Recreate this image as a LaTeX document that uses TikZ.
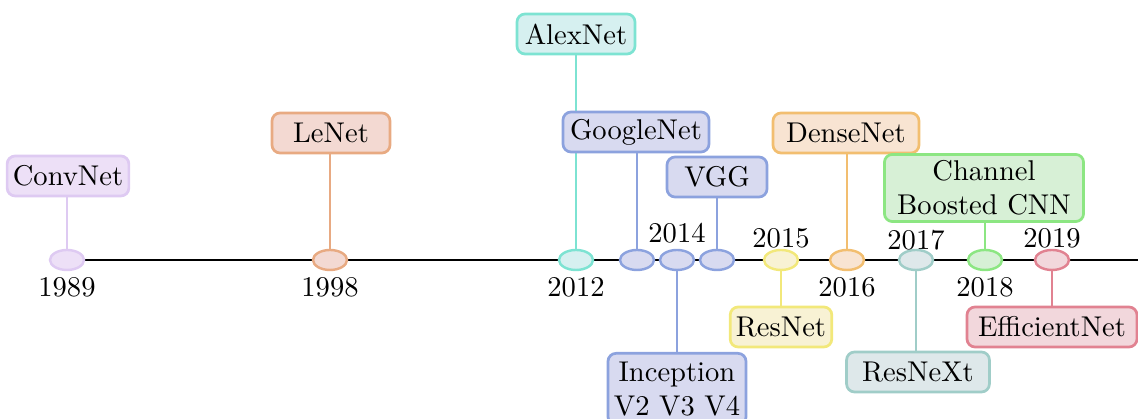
\documentclass[tikz,border=0pt]{standalone}
\usetikzlibrary{shapes.geometric,backgrounds}

% Outline and fill colours for each network family
\definecolor{convD}{RGB}{222,202,242}
\definecolor{convF}{RGB}{237,224,247}
\definecolor{leD}{RGB}{232,170,130}
\definecolor{leF}{RGB}{243,217,210}
\definecolor{alexD}{RGB}{125,227,210}
\definecolor{alexF}{RGB}{214,240,240}
\definecolor{gooD}{RGB}{140,162,222}
\definecolor{gooF}{RGB}{216,218,240}
\definecolor{resD}{RGB}{242,232,122}
\definecolor{resF}{RGB}{248,242,212}
\definecolor{denseD}{RGB}{242,190,112}
\definecolor{denseF}{RGB}{248,228,210}
\definecolor{rnxD}{RGB}{160,205,200}
\definecolor{rnxF}{RGB}{222,232,234}
\definecolor{cbD}{RGB}{140,230,130}
\definecolor{cbF}{RGB}{215,240,214}
\definecolor{effD}{RGB}{225,130,145}
\definecolor{effF}{RGB}{242,215,220}

\tikzset{
  netbox/.style 2 args={draw=#1, fill=#2, line width=0.95pt, rounded corners=2.8pt,
    align=center, minimum height=14pt, inner xsep=2pt, inner ysep=2pt},
  yearmark/.style 2 args={ellipse, draw=#1, fill=#2, line width=0.85pt,
    minimum width=11.9pt, minimum height=7pt, inner sep=0pt},
  stem/.style={draw=#1, line width=0.65pt},
  axisline/.style={draw=black, line width=0.7pt},
}

\begin{document}
\begin{tikzpicture}[x=0.35pt, y=-0.35pt]
\useasboundingbox (0,0) rectangle (1138,419);

% Year markers on the time axis
\node[yearmark={convD}{convF}] (y1989) at (67,260) {};
\node[yearmark={leD}{leF}] (y1998) at (330,260) {};
\node[yearmark={alexD}{alexF}] (y2012) at (576,260) {};
\node[yearmark={gooD}{gooF}] (y2014a) at (637,260) {};
\node[yearmark={gooD}{gooF}] (y2014b) at (677,260) {};
\node[yearmark={gooD}{gooF}] (y2014c) at (717,260) {};
\node[yearmark={resD}{resF}] (y2015) at (781,260) {};
\node[yearmark={denseD}{denseF}] (y2016) at (847,260) {};
\node[yearmark={rnxD}{rnxF}] (y2017) at (916,260) {};
\node[yearmark={cbD}{cbF}] (y2018) at (985,260) {};
\node[yearmark={effD}{effF}] (y2019) at (1052,260) {};
\coordinate (axisend) at (1138,260);

% Year labels
\node (l1989) at (67,287) {1989};
\node (l1998) at (330,287) {1998};
\node (l2012) at (576,287) {2012};
\node (l2014) at (677,233) {2014};
\node (l2015) at (781,238) {2015};
\node (l2016) at (847,287) {2016};
\node (l2017) at (916,240) {2017};
\node (l2018) at (985,287) {2018};
\node (l2019) at (1052,238) {2019};

% Network boxes
\node[netbox={convD}{convF}, minimum width=40.6pt] (convnet) at (68,176) {ConvNet};
\node[netbox={leD}{leF}, minimum width=41.3pt] (lenet) at (331,133) {LeNet};
\node[netbox={alexD}{alexF}, minimum width=41.3pt] (alexnet) at (576,34) {AlexNet};
\node[netbox={gooD}{gooF}, minimum width=51.1pt] (googlenet) at (636,132) {GoogleNet};
\node[netbox={gooD}{gooF}, minimum width=35pt] (vgg) at (717,177) {VGG};
\node[netbox={gooD}{gooF}, minimum width=48.3pt, anchor=north, inner ysep=3pt] (inception) at (677,352) {Inception\\V2 V3 V4};
\node[netbox={resD}{resF}, minimum width=35pt] (resnet) at (781,327) {ResNet};
\node[netbox={denseD}{denseF}, minimum width=51.1pt] (densenet) at (846,133) {DenseNet};
\node[netbox={rnxD}{rnxF}, minimum width=50pt] (resnext) at (918,372) {ResNeXt};
\node[netbox={cbD}{cbF}, minimum width=69.7pt, minimum height=23.5pt] (cbcnn) at (984,188) {Channel\\Boosted CNN};
\node[netbox={effD}{effF}, minimum width=59.5pt] (effnet) at (1052,327) {EfficientNet};

% Axis and stems, kept behind the filled shapes
\begin{scope}[on background layer]
  \draw[axisline] (y1989.east) -- (axisend);
  \draw[stem=convD] (y1989) -- (y1989 |- convnet);
  \draw[stem=leD] (y1998) -- (y1998 |- lenet);
  \draw[stem=alexD] (y2012) -- (y2012 |- alexnet);
  \draw[stem=gooD] (y2014a) -- (y2014a |- googlenet);
  \draw[stem=gooD] (y2014b) -- (y2014b |- inception.north);
  \draw[stem=gooD] (y2014c) -- (y2014c |- vgg);
  \draw[stem=resD] (y2015) -- (y2015 |- resnet);
  \draw[stem=denseD] (y2016) -- (y2016 |- densenet);
  \draw[stem=rnxD] (y2017) -- (y2017 |- resnext);
  \draw[stem=cbD] (y2018) -- (y2018 |- cbcnn);
  \draw[stem=effD] (y2019) -- (y2019 |- effnet);
\end{scope}
\end{tikzpicture}
\end{document}
